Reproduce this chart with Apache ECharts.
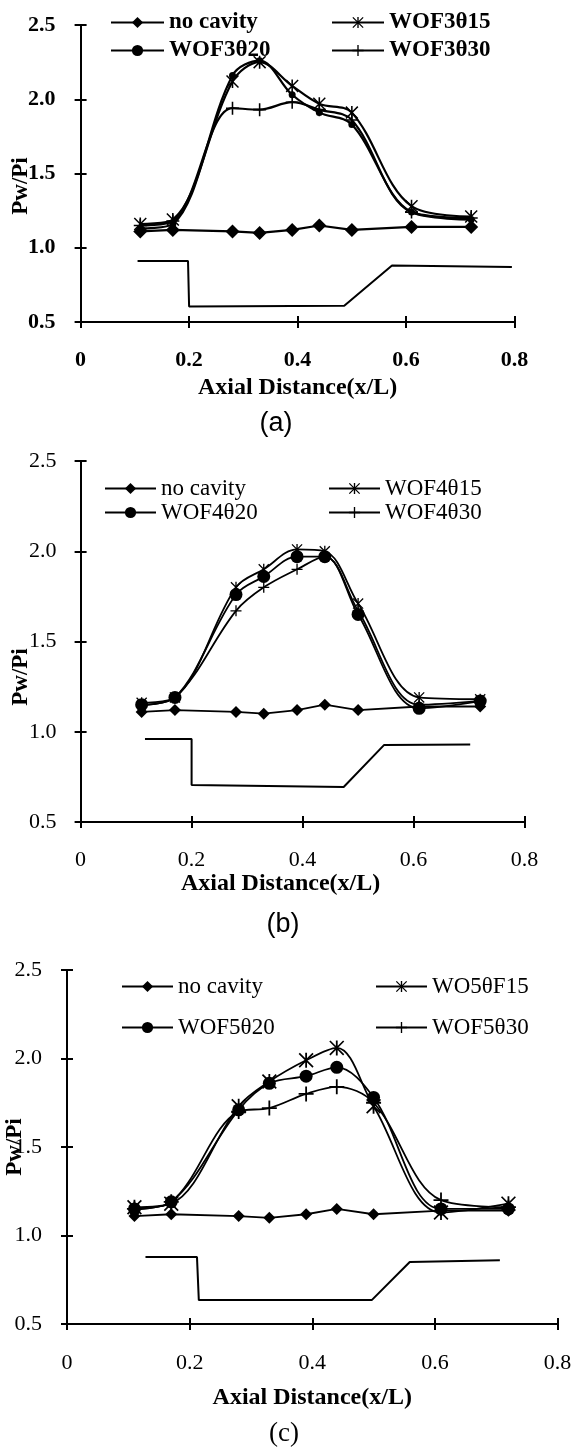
<!DOCTYPE html>
<html lang="en">
<head>
<meta charset="UTF-8">
<title>Pw/Pi vs axial distance</title>
<script src="https://cdn.jsdelivr.net/npm/echarts@6/dist/echarts.min.js"></script>
<style>
    * { margin: 0; padding: 0; }
    body { background: #fff; overflow: hidden; }
    #main { width: 574px; height: 1449px; }
</style>
</head>
<body>
<div id="main"></div>
<script type="text/javascript">
    // pressure taps (x/L)
    var xPos = [0.11, 0.17, 0.28, 0.33, 0.39, 0.44, 0.50, 0.61, 0.72];
    var xTickLabels = ['0', '0.2', '0.4', '0.6', '0.8'];
    var yTickLabels = ['0.5', '1.0', '1.5', '2.0', '2.5'];

    var noCavity = [1.11, 1.12, 1.11, 1.10, 1.12, 1.15, 1.12, 1.14, 1.14];
    // (a)
    var wof3t15 = [1.16, 1.19, 2.12, 2.25, 2.09, 1.97, 1.91, 1.28, 1.21];
    var wof3t20 = [1.13, 1.16, 2.16, 2.26, 2.03, 1.91, 1.83, 1.24, 1.19];
    var wof3t30 = [1.15, 1.18, 1.94, 1.93, 1.98, 1.93, 1.86, 1.24, 1.20];
    // (b)
    var wof4t15 = [1.16, 1.19, 1.80, 1.90, 2.01, 2.00, 1.71, 1.19, 1.18];
    var wof4t20 = [1.15, 1.19, 1.76, 1.86, 1.97, 1.97, 1.65, 1.13, 1.17];
    var wof4t30 = [1.15, 1.19, 1.67, 1.80, 1.90, 1.97, 1.67, 1.15, 1.17];
    // (c)
    var wo5tf15 = [1.16, 1.18, 1.73, 1.87, 1.99, 2.06, 1.73, 1.13, 1.18];
    var wof5t20 = [1.15, 1.19, 1.71, 1.86, 1.90, 1.95, 1.78, 1.15, 1.15];
    var wof5t30 = [1.15, 1.19, 1.70, 1.72, 1.80, 1.84, 1.75, 1.20, 1.16];

    // cavity outline sketched under the curves
    var profAx = [0.105, 0.198, 0.200, 0.486, 0.574, 0.795];
    var profAy = [0.91, 0.91, 0.605, 0.61, 0.88, 0.87];
    var profBx = [0.116, 0.200, 0.200, 0.474, 0.547, 0.702];
    var profBy = [0.96, 0.96, 0.705, 0.694, 0.927, 0.93];
    var profCx = [0.128, 0.212, 0.215, 0.497, 0.559, 0.706];
    var profCy = [0.878, 0.878, 0.635, 0.635, 0.85, 0.86];

    var namesA = ['no cavity', 'WOF3θ15', 'WOF3θ20', 'WOF3θ30'];
    var namesB = ['no cavity', 'WOF4θ15', 'WOF4θ20', 'WOF4θ30'];
    var namesC = ['no cavity', 'WO5θF15', 'WOF5θ20', 'WOF5θ30'];

    var SERIF = '"Liberation Serif", "Times New Roman", serif';
    var SANS = '"Liberation Sans", Arial, sans-serif';

    // excel style markers
    var starPath = 'path://M8.8 0H11.2V20H8.8Z M0 1.6L1.6 0L20 18.4L18.4 20Z M18.4 0L20 1.6L1.6 20L0 18.4Z';
    var plusPath = 'path://M8.8 0H11.2V8.8H20V11.2H11.2V20H8.8V11.2H0V8.8H8.8Z';

    var panels = [
        {
            box: {left: 80.6, top: 25, width: 434, height: 297},
            names: namesA, ys: [noCavity, wof3t15, wof3t20, wof3t30],
            px: profAx, py: profAy, bold: true, lw: 2.2,
            sizes: [14, 13, 7, 13],
            legTop: 11, legGap: 5, legLeft: [110, 331], legW: [53, 52],
            yMargin: 25, xMargin: 27, nameGap: 54, namePad: 0,
            tag: '(a)', tagX: 276, tagY: 424, tagFont: SANS,
            yTitleX: 21, yTitleY: 186
        },
        {
            box: {left: 80.6, top: 461, width: 444, height: 361},
            names: namesB, ys: [noCavity, wof4t15, wof4t20, wof4t30],
            px: profBx, py: profBy, bold: false, lw: 1.8,
            sizes: [12, 11, 13, 11],
            legTop: 477, legGap: 1, legLeft: [104, 328], legW: [51, 51],
            yMargin: 24, xMargin: 27, nameGap: 46, namePad: 44,
            tag: '(b)', tagX: 283, tagY: 925, tagFont: SANS,
            yTitleX: 21, yTitleY: 677
        },
        {
            box: {left: 67, top: 970, width: 490.5, height: 354},
            names: namesC, ys: [noCavity, wo5tf15, wof5t20, wof5t30],
            px: profCx, py: profCy, bold: false, lw: 1.8,
            sizes: [12, 15, 13, 15],
            legTop: 975, legGap: 18, legLeft: [121, 375], legW: [51, 51],
            yMargin: 25, xMargin: 28, nameGap: 62, namePad: 0,
            tag: '(c)', tagX: 284, tagY: 1434, tagFont: SERIF,
            yTitleX: 15, yTitleY: 1147
        }
    ];

    var symbols = ['diamond', starPath, 'circle', plusPath];

    var grids = [], xAxes = [], yAxes = [], series = [], legends = [], graphics = [];

    panels.forEach(function (p, k) {
        var fw = p.bold ? 'bold' : 'normal';
        grids.push({left: p.box.left, top: p.box.top, width: p.box.width, height: p.box.height,
            outerBoundsMode: 'none', containLabel: false});

        var xBase = {
            type: 'value', gridIndex: k, min: 0, max: 0.8, interval: 0.2, position: 'bottom',
            splitLine: {show: false}
        };
        var yBase = {
            type: 'value', gridIndex: k, min: 0.5, max: 2.5, interval: 0.5, position: 'left',
            splitLine: {show: false}
        };
        // main axes: line, outside ticks, labels
        xAxes.push(Object.assign({}, xBase, {
            axisLine: {show: true, onZero: false, lineStyle: {color: '#000', width: 2}},
            axisTick: {show: true, inside: false, length: 6, lineStyle: {color: '#000', width: 2}},
            axisLabel: {
                color: '#000', fontFamily: SERIF, fontSize: 22, fontWeight: fw, margin: p.xMargin,
                formatter: function (v) { return xTickLabels[Math.round(v / 0.2)]; }
            },
            name: 'Axial Distance(x/L)', nameLocation: 'middle', nameGap: p.nameGap,
            nameTextStyle: {color: '#000', fontFamily: SERIF, fontSize: 24, fontWeight: 'bold',
                padding: [0, p.namePad, 0, 0]}
        }));
        // twin axes only for the inside half of the cross ticks
        xAxes.push(Object.assign({}, xBase, {
            axisLine: {show: false, onZero: false},
            axisTick: {show: true, inside: true, length: 6, lineStyle: {color: '#000', width: 2}},
            axisLabel: {show: false}
        }));
        yAxes.push(Object.assign({}, yBase, {
            axisLine: {show: true, onZero: false, lineStyle: {color: '#000', width: 2}},
            axisTick: {show: true, inside: false, length: 6, lineStyle: {color: '#000', width: 2}},
            axisLabel: {
                color: '#000', fontFamily: SERIF, fontSize: 22, fontWeight: fw, margin: p.yMargin,
                formatter: function (v) { return yTickLabels[Math.round((v - 0.5) / 0.5)]; }
            }
        }));
        yAxes.push(Object.assign({}, yBase, {
            axisLine: {show: false, onZero: false},
            axisTick: {show: true, inside: true, length: 6, lineStyle: {color: '#000', width: 2}},
            axisLabel: {show: false}
        }));

        var ai = 2 * k;
        p.ys.forEach(function (ys, j) {
            series.push({
                name: p.names[j], type: 'line', xAxisIndex: ai, yAxisIndex: ai,
                data: xPos.map(function (x, i) { return [x, ys[i]]; }),
                smooth: j === 0 ? false : 0.35,
                symbol: symbols[j], symbolSize: p.sizes[j], showSymbol: true,
                itemStyle: {color: '#000'},
                lineStyle: {color: '#000', width: p.lw},
                emphasis: {disabled: true},
                z: 3
            });
        });
        series.push({
            name: 'outline' + k, type: 'line', xAxisIndex: ai, yAxisIndex: ai,
            data: p.px.map(function (x, i) { return [x, p.py[i]]; }),
            symbol: 'none', lineStyle: {color: '#000', width: 2},
            emphasis: {disabled: true}, z: 2
        });

        var legText = {color: '#000', fontFamily: SERIF, fontSize: 23, fontWeight: fw, lineHeight: 22};
        [[p.names[0], p.names[2]], [p.names[1], p.names[3]]].forEach(function (col, c) {
            legends.push({
                orient: 'vertical', left: p.legLeft[c], top: p.legTop,
                itemWidth: p.legW[c], itemHeight: 14, itemGap: p.legGap,
                selectedMode: false, padding: 0,
                textStyle: legText, data: col
            });
        });

        graphics.push({
            type: 'text', x: p.yTitleX, y: p.yTitleY, rotation: Math.PI / 2,
            style: {text: 'Pw/Pi', fill: '#000', font: 'bold 23px ' + SERIF,
                textAlign: 'center', textVerticalAlign: 'middle'}
        });
        graphics.push({
            type: 'text', x: p.tagX, y: p.tagY,
            style: {text: p.tag, fill: '#000', font: '27px ' + p.tagFont,
                textAlign: 'center', textVerticalAlign: 'middle'}
        });
    });

    var myChart = echarts.init(document.getElementById('main'));
    myChart.setOption({
        backgroundColor: '#fff',
        animation: false,
        grid: grids,
        xAxis: xAxes,
        yAxis: yAxes,
        legend: legends,
        graphic: graphics,
        series: series
    });
</script>
</body>
</html>
